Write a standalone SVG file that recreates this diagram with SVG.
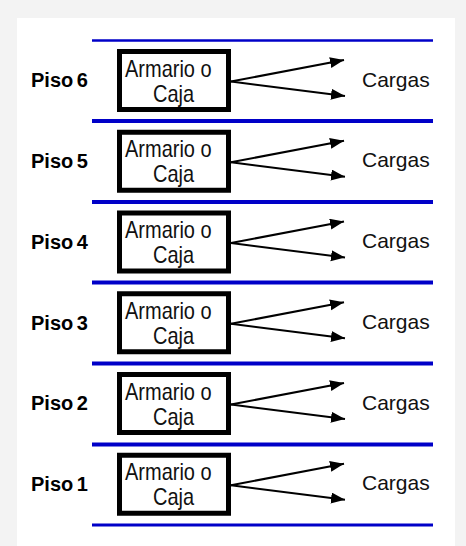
<svg xmlns="http://www.w3.org/2000/svg" width="466" height="546" viewBox="0 0 466 546">
  <defs>
    <marker id="ah" markerUnits="userSpaceOnUse" markerWidth="15" markerHeight="12" refX="14" refY="5.5" orient="auto">
      <path d="M0,0 L14,5.5 L0,11 z" fill="#000"/>
    </marker>
    <style>
      .box { fill: #fff; stroke: #000; stroke-width: 5; }
      .in { font-family: "Liberation Sans", Arial, sans-serif; font-size: 20px; fill: #111; }
      .piso { font-family: "Liberation Sans", Arial, sans-serif; font-size: 20px; font-weight: bold; fill: #000; word-spacing: -2px; }
      .carg { font-family: "Liberation Sans", Arial, sans-serif; font-size: 21px; fill: #111; }
      .floor { stroke: #0000c8; }
      .arr { stroke: #000; stroke-width: 2; fill: none; marker-end: url(#ah); }
    </style>
  </defs>
  <rect x="0" y="0" width="466" height="546" fill="#f3f3f3"/>
  <rect x="17" y="18" width="438" height="528" fill="#fff"/>

  <g id="floors">
    <line class="floor" x1="92" y1="40.5" x2="433" y2="40.5" stroke-width="2.5"/>
    <line class="floor" x1="92" y1="121" x2="433" y2="121" stroke-width="4"/>
    <line class="floor" x1="92" y1="202" x2="433" y2="202" stroke-width="4"/>
    <line class="floor" x1="92" y1="282.5" x2="433" y2="282.5" stroke-width="4"/>
    <line class="floor" x1="92" y1="363.5" x2="433" y2="363.5" stroke-width="4"/>
    <line class="floor" x1="92" y1="444.5" x2="433" y2="444.5" stroke-width="4"/>
    <line class="floor" x1="92" y1="525" x2="433" y2="525" stroke-width="3"/>
  </g>

  <g id="piso6">
    <text class="piso" x="31" y="87.3">Piso 6</text>
    <rect class="box" x="119.5" y="51.5" width="109" height="58"/>
    <text class="in" transform="translate(125,76.7) scale(1,1.2)">Armario o</text>
    <text class="in" transform="translate(153,101.7) scale(1,1.2)">Caja</text>
    <text class="carg" x="362" y="86.7">Cargas</text>
  </g>
  <g id="piso5" transform="translate(0,80.75)">
    <text class="piso" x="31" y="87.3">Piso 5</text>
    <rect class="box" x="119.5" y="51.5" width="109" height="58"/>
    <text class="in" transform="translate(125,76.7) scale(1,1.2)">Armario o</text>
    <text class="in" transform="translate(153,101.7) scale(1,1.2)">Caja</text>
    <text class="carg" x="362" y="86.7">Cargas</text>
  </g>
  <g id="piso4" transform="translate(0,161.5)">
    <text class="piso" x="31" y="87.3">Piso 4</text>
    <rect class="box" x="119.5" y="51.5" width="109" height="58"/>
    <text class="in" transform="translate(125,76.7) scale(1,1.2)">Armario o</text>
    <text class="in" transform="translate(153,101.7) scale(1,1.2)">Caja</text>
    <text class="carg" x="362" y="86.7">Cargas</text>
  </g>
  <g id="piso3" transform="translate(0,242.25)">
    <text class="piso" x="31" y="87.3">Piso 3</text>
    <rect class="box" x="119.5" y="51.5" width="109" height="58"/>
    <text class="in" transform="translate(125,76.7) scale(1,1.2)">Armario o</text>
    <text class="in" transform="translate(153,101.7) scale(1,1.2)">Caja</text>
    <text class="carg" x="362" y="86.7">Cargas</text>
  </g>
  <g id="piso2" transform="translate(0,323)">
    <text class="piso" x="31" y="87.3">Piso 2</text>
    <rect class="box" x="119.5" y="51.5" width="109" height="58"/>
    <text class="in" transform="translate(125,76.7) scale(1,1.2)">Armario o</text>
    <text class="in" transform="translate(153,101.7) scale(1,1.2)">Caja</text>
    <text class="carg" x="362" y="86.7">Cargas</text>
  </g>
  <g id="piso1" transform="translate(0,403.75)">
    <text class="piso" x="31" y="87.3">Piso 1</text>
    <rect class="box" x="119.5" y="51.5" width="109" height="58"/>
    <text class="in" transform="translate(125,76.7) scale(1,1.2)">Armario o</text>
    <text class="in" transform="translate(153,101.7) scale(1,1.2)">Caja</text>
    <text class="carg" x="362" y="86.7">Cargas</text>
  </g>

  <g id="connectors">
    <line class="arr" x1="231" y1="81.5" x2="344" y2="60"/>
    <line class="arr" x1="231" y1="81.5" x2="345" y2="96"/>
    <line class="arr" x1="231" y1="162.25" x2="344" y2="140.75"/>
    <line class="arr" x1="231" y1="162.25" x2="345" y2="176.75"/>
    <line class="arr" x1="231" y1="243" x2="344" y2="221.5"/>
    <line class="arr" x1="231" y1="243" x2="345" y2="257.5"/>
    <line class="arr" x1="231" y1="323.75" x2="344" y2="302.25"/>
    <line class="arr" x1="231" y1="323.75" x2="345" y2="338.25"/>
    <line class="arr" x1="231" y1="404.5" x2="344" y2="383"/>
    <line class="arr" x1="231" y1="404.5" x2="345" y2="419"/>
    <line class="arr" x1="231" y1="485.25" x2="344" y2="463.75"/>
    <line class="arr" x1="231" y1="485.25" x2="345" y2="499.75"/>
  </g>
</svg>
